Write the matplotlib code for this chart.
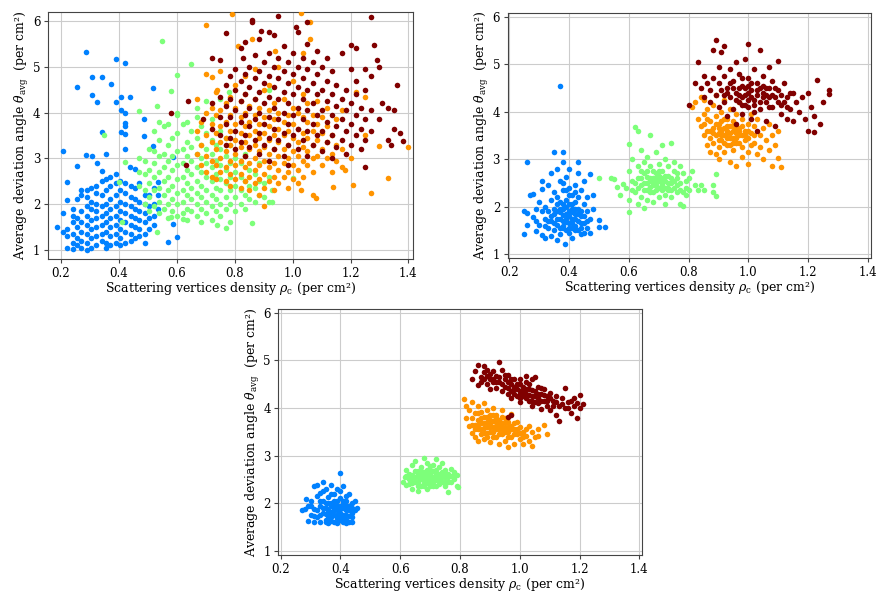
import matplotlib.pyplot as plt
import numpy as np

plt.rcParams['font.family'] = 'DejaVu Serif'
plt.rcParams['mathtext.fontset'] = 'dejavuserif'

# colores de les classes (jet a 0.25, 0.5, 0.75, 1.0)
colors = plt.cm.jet([0.25, 0.5, 0.75, 1.0])

# ---------- panell 1: columnes (x, valors y) + punts solts ----------
p1_blue_cols = [
    (0.22, [1.05, 1.3, 1.45]), (0.24, [1.02, 1.15, 1.35, 1.6, 1.75, 1.9]),
    (0.255, [1.1, 1.25, 1.5, 1.7, 2.1]), (0.27, [1.05, 1.2, 1.4, 1.6, 1.85, 2.2, 2.3]),
    (0.29, [1.0, 1.15, 1.35, 1.55, 1.75, 1.95, 2.15, 2.3]),
    (0.305, [1.05, 1.25, 1.45, 1.65, 1.9, 2.05, 2.35]),
    (0.32, [1.1, 1.3, 1.5, 1.7, 1.85, 2.0, 2.25, 2.4]),
    (0.34, [1.2, 1.35, 1.55, 1.75, 1.95, 2.2, 2.5]),
    (0.355, [1.05, 1.15, 1.4, 1.6, 1.8, 2.0, 2.3, 2.55]),
    (0.37, [1.1, 1.3, 1.5, 1.7, 1.9, 2.1, 2.4, 2.6]),
    (0.39, [1.15, 1.35, 1.55, 1.75, 1.95, 2.2, 2.45, 2.65]),
    (0.405, [1.1, 1.25, 1.45, 1.65, 1.85, 2.05, 2.3, 2.5]),
    (0.42, [1.15, 1.4, 1.6, 1.8, 2.0, 2.25, 2.45]),
    (0.44, [1.2, 1.35, 1.55, 1.75, 1.95, 2.15, 2.4]),
    (0.455, [1.25, 1.5, 1.7, 1.9, 2.1, 2.35]),
    (0.47, [1.3, 1.45, 1.65, 1.85, 2.05, 2.45]),
    (0.49, [1.15, 1.35, 1.6, 1.8, 2.0, 2.2]),
    (0.505, [1.45, 1.7, 1.95, 2.2]), (0.52, [1.55, 1.75, 2.0, 2.35]), (0.535, [1.9, 2.2]),
]
p1_blue_x = [0.187, 0.206, 0.206, 0.206, 0.222, 0.222, 0.255, 0.255, 0.288, 0.306, 0.306,
             0.306, 0.288, 0.323, 0.323, 0.340, 0.340, 0.340, 0.355, 0.372, 0.391, 0.391,
             0.407, 0.407, 0.407, 0.420, 0.420, 0.420, 0.420, 0.420, 0.420, 0.438, 0.438,
             0.455, 0.487, 0.487, 0.519, 0.519, 0.536, 0.586, 0.586, 0.602, 0.570]
p1_blue_y = [1.49, 3.15, 1.80, 1.40, 2.49, 2.09, 4.55, 2.84, 5.33, 4.78, 4.38,
             3.05, 3.07, 4.24, 2.89, 4.77, 3.57, 2.73, 3.10, 4.62, 5.18, 4.23,
             4.35, 3.58, 4.06, 5.09, 3.98, 3.78, 3.70, 3.53, 3.20, 4.35, 2.82,
             2.76, 3.87, 3.49, 4.53, 3.26, 2.49, 3.02, 1.57, 1.29, 1.17]

p1_green_cols = [
    (0.47, [2.4, 2.7, 3.0]), (0.49, [2.0, 2.3, 2.65, 2.95]),
    (0.505, [1.85, 2.15, 2.45, 2.75, 3.2]), (0.52, [1.95, 2.3, 2.6, 2.9, 3.15, 3.6]),
    (0.54, [1.8, 2.05, 2.35, 2.7, 3.05, 3.4, 3.8]), (0.555, [1.9, 2.2, 2.5, 2.8, 3.1, 3.7]),
    (0.57, [1.7, 2.0, 2.3, 2.6, 2.95, 3.3, 3.75]), (0.585, [1.85, 2.1, 2.4, 2.75, 3.05, 3.45]),
    (0.60, [1.75, 2.0, 2.25, 2.55, 2.85, 3.15, 3.55, 3.95]),
    (0.62, [1.8, 2.05, 2.3, 2.6, 2.9, 3.2, 3.75]),
    (0.635, [1.65, 1.9, 2.2, 2.45, 2.75, 3.05, 3.35, 3.8]),
    (0.65, [1.85, 2.1, 2.35, 2.65, 2.95, 3.25, 3.6]),
    (0.67, [1.75, 2.0, 2.25, 2.5, 2.8, 3.1, 3.45, 3.9]),
    (0.685, [1.6, 1.9, 2.15, 2.4, 2.7, 3.0, 3.3, 3.7]),
    (0.70, [1.8, 2.05, 2.3, 2.6, 2.9, 3.2, 3.55]),
    (0.72, [1.65, 1.95, 2.2, 2.5, 2.8, 3.1, 3.4, 3.85]),
    (0.735, [1.85, 2.1, 2.35, 2.65, 2.95, 3.3]),
    (0.75, [1.75, 2.0, 2.3, 2.55, 2.85, 3.2, 3.6]),
    (0.77, [1.9, 2.15, 2.45, 2.75, 3.05, 3.45]), (0.785, [1.6, 2.0, 2.3, 2.6, 2.9, 3.3]),
    (0.80, [1.85, 2.15, 2.4, 2.7, 3.0]), (0.82, [2.0, 2.3, 2.6, 2.9]),
    (0.835, [1.9, 2.2, 2.5, 3.1]), (0.85, [2.1, 2.4, 2.75]), (0.87, [2.05, 2.35, 2.65]),
    (0.885, [2.2, 2.5, 2.9]), (0.90, [2.15, 2.45]), (0.92, [2.05, 2.6]),
]
p1_green_x = [0.55, 0.60, 0.65, 0.58, 0.53, 0.47, 0.35, 0.42, 0.40, 0.77, 0.74, 0.86,
              0.62, 0.58, 0.53, 0.41, 0.93, 1.00, 0.78, 0.92, 0.93, 0.60, 0.67, 0.70, 0.75]
p1_green_y = [5.57, 4.83, 5.06, 4.48, 4.15, 4.04, 3.50, 2.93, 2.49, 1.47, 1.55, 1.58,
              1.68, 1.72, 1.38, 1.60, 2.05, 2.58, 4.44, 4.50, 2.30, 3.99, 4.10, 4.25, 4.30]

p1_orange_cols = [
    (0.67, [3.1, 3.6, 4.3]), (0.685, [2.85, 3.3, 3.8]), (0.70, [2.7, 3.05, 3.5, 4.0]),
    (0.72, [2.6, 2.95, 3.35, 3.75, 4.1]), (0.735, [2.55, 2.85, 3.2, 3.55, 3.95, 4.45]),
    (0.75, [2.7, 3.0, 3.35, 3.7, 4.05]), (0.77, [2.5, 2.8, 3.15, 3.45, 3.8, 4.2]),
    (0.785, [2.4, 2.65, 2.95, 3.3, 3.6, 3.95, 4.35]),
    (0.80, [2.55, 2.85, 3.1, 3.4, 3.75, 4.1, 4.6]),
    (0.82, [2.35, 2.65, 2.95, 3.25, 3.55, 3.9, 4.25]),
    (0.835, [2.5, 2.8, 3.05, 3.35, 3.7, 4.0, 4.4, 4.8]),
    (0.85, [2.3, 2.6, 2.9, 3.2, 3.5, 3.8, 4.15]),
    (0.87, [2.45, 2.75, 3.0, 3.3, 3.6, 3.95, 4.3, 4.95]),
    (0.885, [2.2, 2.55, 2.85, 3.15, 3.45, 3.75, 4.1]),
    (0.90, [2.35, 2.65, 2.95, 3.25, 3.55, 3.9, 4.5]),
    (0.92, [2.5, 2.8, 3.1, 3.4, 3.7, 4.05, 4.6]),
    (0.935, [2.3, 2.6, 2.9, 3.2, 3.5, 3.85, 4.2]),
    (0.95, [2.45, 2.75, 3.05, 3.35, 3.65, 4.0, 5.0]),
    (0.97, [2.6, 2.9, 3.2, 3.5, 3.8, 4.3]), (0.985, [2.35, 2.7, 3.0, 3.3, 3.6, 3.95]),
    (1.00, [2.55, 2.85, 3.15, 3.45, 3.75, 4.1, 4.7]), (1.02, [2.75, 3.05, 3.35, 3.65, 4.0]),
    (1.035, [2.6, 2.95, 3.25, 3.55, 3.9, 4.4, 5.3]), (1.05, [2.85, 3.15, 3.45, 3.8, 4.2]),
    (1.07, [2.7, 3.0, 3.3, 3.6, 3.95]), (1.085, [3.05, 3.4, 3.75, 4.25]),
    (1.10, [2.85, 3.2, 3.55, 3.9]), (1.12, [3.0, 3.35, 3.7, 4.1]), (1.135, [2.7, 3.1, 3.5]),
    (1.15, [2.95, 3.3, 3.85]), (1.17, [2.8, 3.2]),
]
p1_orange_x = [0.70, 0.79, 1.03, 0.81, 0.86, 0.94, 1.06, 1.06, 0.70, 0.72, 0.75, 0.74,
               0.90, 1.07, 1.08, 1.14, 1.21, 1.27, 1.33, 1.40, 1.30, 1.25, 1.20, 1.18,
               1.22, 1.25, 1.17, 1.02, 1.03]
p1_orange_y = [5.92, 6.15, 6.17, 5.45, 5.60, 5.35, 5.60, 5.98, 4.85, 4.78, 4.90, 4.50,
               1.96, 2.20, 2.14, 2.38, 2.42, 2.24, 2.56, 3.24, 3.27, 3.50, 3.00, 2.75,
               4.45, 4.35, 4.05, 2.45, 2.30]

p1_red_cols = [
    (0.72, [3.65, 4.2]), (0.75, [3.5, 3.9, 4.35]), (0.77, [3.3, 3.75, 4.15, 4.6]),
    (0.785, [3.45, 3.9, 4.3, 4.8]), (0.80, [3.2, 3.6, 4.05, 4.5, 4.95]),
    (0.82, [3.35, 3.8, 4.25, 4.7, 5.4]), (0.835, [3.05, 3.5, 3.95, 4.4, 4.85, 5.55]),
    (0.85, [3.25, 3.7, 4.1, 4.55, 5.0]), (0.87, [3.4, 3.85, 4.3, 4.75, 5.25]),
    (0.885, [3.1, 3.55, 4.0, 4.45, 4.9, 5.6]), (0.90, [3.3, 3.75, 4.2, 4.65, 5.1]),
    (0.92, [2.95, 3.45, 3.9, 4.35, 4.8, 5.3]), (0.935, [3.2, 3.65, 4.1, 4.55, 5.0, 5.7]),
    (0.95, [3.4, 3.85, 4.3, 4.75, 5.2]), (0.97, [3.05, 3.55, 4.0, 4.45, 4.9, 5.45]),
    (0.985, [2.85, 3.3, 3.75, 4.2, 4.65, 5.1]), (1.00, [3.5, 3.95, 4.4, 4.85, 5.3]),
    (1.02, [3.2, 3.65, 4.1, 4.55, 5.0, 5.75]), (1.035, [3.4, 3.85, 4.3, 4.75, 5.2]),
    (1.05, [3.05, 3.6, 4.05, 4.5, 4.95, 5.5]), (1.07, [3.3, 3.75, 4.2, 4.65, 5.1]),
    (1.085, [3.5, 3.95, 4.4, 4.85, 5.35]), (1.10, [3.15, 3.6, 4.05, 4.5, 5.0]),
    (1.12, [3.35, 3.8, 4.25, 4.7, 5.2]), (1.135, [3.0, 3.5, 3.95, 4.4, 4.9]),
    (1.15, [3.25, 3.7, 4.15, 4.6]), (1.17, [3.4, 3.85, 4.3, 5.3]),
    (1.185, [3.1, 3.6, 4.05, 4.5]), (1.20, [3.3, 3.75, 4.2, 4.95]),
    (1.22, [3.5, 3.95, 4.4, 4.7]), (1.235, [3.2, 3.65, 4.1]),
    (1.25, [3.4, 3.85, 4.5, 4.95]), (1.27, [3.6, 4.05]),
]
p1_red_x = [0.95, 0.86, 0.86, 1.27, 1.05, 1.01, 0.89, 0.77, 0.92, 0.83, 0.72, 0.75,
            0.64, 0.58, 0.69, 0.63, 1.36, 1.38, 1.37, 1.35, 1.34, 1.33, 1.25, 1.30,
            1.28, 1.20, 1.22, 1.29, 1.30, 1.27, 1.31, 1.33, 1.35]
p1_red_y = [6.10, 5.98, 6.02, 6.08, 5.98, 5.88, 5.78, 5.73, 5.75, 5.20, 5.20, 5.15,
            4.25, 3.98, 3.85, 2.85, 4.60, 3.37, 3.55, 3.63, 3.30, 3.40, 2.80, 3.87,
            5.48, 5.48, 5.40, 5.15, 5.00, 4.80, 4.20, 4.10, 4.05]

# ---------- panell 2 ----------
p2_blue = [(0.37, 4.55), (0.26, 2.94), (0.35, 3.15), (0.38, 3.16), (0.25, 1.9), (0.25, 1.43),
           (0.26, 1.62), (0.26, 1.87), (0.27, 2.25), (0.28, 2.26), (0.28, 1.78), (0.29, 1.48),
           (0.29, 1.95), (0.30, 1.62), (0.30, 2.1), (0.31, 2.55), (0.31, 2.38), (0.31, 1.40),
           (0.32, 1.75), (0.32, 2.0), (0.32, 1.35), (0.33, 2.45), (0.33, 1.9), (0.33, 1.55),
           (0.34, 2.7), (0.34, 2.15), (0.34, 1.7), (0.34, 1.38), (0.35, 2.3), (0.35, 1.85),
           (0.35, 1.5), (0.36, 2.8), (0.36, 2.05), (0.36, 1.62), (0.37, 2.55), (0.37, 1.95),
           (0.37, 1.75), (0.37, 1.42), (0.38, 2.35), (0.38, 1.82), (0.38, 1.55), (0.38, 2.95),
           (0.385, 1.22), (0.39, 2.15), (0.39, 1.68), (0.39, 2.62), (0.40, 1.9), (0.40, 1.45),
           (0.40, 2.8), (0.40, 2.25), (0.41, 1.75), (0.41, 2.05), (0.41, 1.35), (0.42, 2.45),
           (0.42, 1.6), (0.42, 1.95), (0.43, 2.7), (0.43, 2.2), (0.43, 1.5), (0.43, 2.95),
           (0.44, 1.8), (0.44, 2.35), (0.44, 1.42), (0.45, 2.05), (0.45, 1.65), (0.45, 2.55),
           (0.46, 1.9), (0.46, 1.55), (0.46, 2.2), (0.47, 1.75), (0.47, 2.68), (0.48, 2.25),
           (0.48, 1.95), (0.50, 1.72), (0.50, 1.58), (0.52, 1.58), (0.47, 1.45), (0.36, 1.3),
           (0.29, 1.7), (0.31, 1.9), (0.39, 1.85), (0.40, 1.65), (0.41, 1.88), (0.38, 1.7),
           (0.42, 1.75), (0.40, 2.05), (0.37, 2.1), (0.39, 1.5), (0.41, 1.55), (0.36, 1.9),
           (0.43, 1.85), (0.44, 1.65), (0.38, 2.05), (0.35, 1.65), (0.42, 2.1),
           (0.36, 1.75), (0.37, 1.88), (0.38, 1.6), (0.38, 1.95), (0.39, 1.75), (0.39, 2.0),
           (0.40, 1.8), (0.40, 1.55), (0.41, 1.95), (0.41, 1.65), (0.42, 1.85), (0.42, 1.5),
           (0.43, 1.7), (0.43, 1.95), (0.44, 1.9), (0.44, 1.55), (0.45, 1.8), (0.45, 1.45),
           (0.35, 1.95), (0.34, 1.8), (0.33, 1.7), (0.36, 2.2), (0.39, 2.35), (0.41, 2.25),
           (0.37, 1.55), (0.40, 2.4), (0.42, 2.3), (0.38, 2.5), (0.46, 1.7), (0.32, 1.6)]
p2_green = [(0.50, 2.6), (0.54, 2.6), (0.55, 2.58), (0.56, 2.42), (0.57, 2.25), (0.58, 2.48),
            (0.59, 2.4), (0.60, 3.33), (0.60, 2.75), (0.60, 2.15), (0.60, 1.88), (0.61, 3.0),
            (0.61, 2.55), (0.62, 3.67), (0.62, 2.3), (0.63, 2.85), (0.63, 2.6), (0.63, 2.05),
            (0.63, 3.6), (0.64, 2.45), (0.64, 2.2), (0.64, 3.2), (0.65, 2.95), (0.65, 2.7),
            (0.65, 2.35), (0.65, 1.98), (0.66, 3.05), (0.66, 2.5), (0.66, 2.15), (0.67, 2.85),
            (0.67, 2.6), (0.67, 2.3), (0.67, 3.5), (0.68, 2.45), (0.68, 2.75), (0.68, 2.1),
            (0.69, 3.15), (0.69, 2.55), (0.69, 2.35), (0.70, 2.9), (0.70, 2.65), (0.70, 2.2),
            (0.71, 2.45), (0.71, 3.3), (0.71, 2.75), (0.72, 2.55), (0.72, 2.05), (0.72, 3.0),
            (0.73, 2.35), (0.73, 2.65), (0.73, 2.85), (0.74, 2.5), (0.74, 2.2), (0.74, 3.35),
            (0.75, 2.75), (0.75, 2.4), (0.75, 2.95), (0.76, 2.6), (0.76, 2.3), (0.77, 2.05),
            (0.77, 2.85), (0.77, 2.5), (0.78, 2.7), (0.78, 2.3), (0.78, 2.02), (0.79, 2.55),
            (0.79, 2.4), (0.80, 2.35), (0.80, 2.6), (0.81, 2.75), (0.82, 2.45), (0.83, 2.35),
            (0.84, 2.45), (0.85, 2.35), (0.88, 2.45), (0.88, 2.3), (0.89, 2.22), (0.89, 2.68),
            (0.67, 2.55), (0.69, 2.7), (0.71, 2.6), (0.70, 2.4), (0.68, 2.6), (0.72, 2.4),
            (0.66, 2.75), (0.73, 2.5),
            (0.64, 2.6), (0.65, 2.5), (0.66, 2.35), (0.66, 2.62), (0.67, 2.42), (0.68, 2.3),
            (0.68, 2.5), (0.69, 2.45), (0.69, 2.6), (0.70, 2.55), (0.70, 2.75), (0.71, 2.35),
            (0.71, 2.5), (0.72, 2.65), (0.72, 2.25), (0.73, 2.4), (0.74, 2.6), (0.74, 2.35),
            (0.75, 2.55), (0.76, 2.45), (0.76, 2.7), (0.77, 2.35), (0.62, 2.5), (0.63, 2.4),
            (0.61, 2.35), (0.79, 2.25), (0.64, 2.75)]
p2_orange = [(0.81, 4.1), (0.82, 4.2), (0.83, 3.85), (0.84, 4.3), (0.84, 3.7), (0.85, 3.95),
             (0.85, 3.5), (0.85, 4.25), (0.86, 3.6), (0.86, 3.3), (0.86, 4.05), (0.87, 3.8),
             (0.87, 3.45), (0.87, 3.15), (0.88, 4.15), (0.88, 3.65), (0.88, 3.35), (0.89, 3.9),
             (0.89, 3.5), (0.89, 3.1), (0.89, 4.35), (0.90, 3.75), (0.90, 3.25), (0.90, 3.0),
             (0.91, 4.0), (0.91, 3.6), (0.91, 3.4), (0.92, 3.85), (0.92, 3.15), (0.92, 4.25),
             (0.93, 3.55), (0.93, 3.3), (0.93, 3.7), (0.94, 4.05), (0.94, 3.45), (0.94, 2.95),
             (0.95, 3.8), (0.95, 3.6), (0.95, 3.2), (0.96, 3.95), (0.96, 3.35), (0.96, 2.85),
             (0.97, 3.65), (0.97, 3.5), (0.97, 4.2), (0.98, 3.85), (0.98, 3.25), (0.98, 3.05),
             (0.99, 3.6), (0.99, 3.4), (1.00, 3.75), (1.00, 3.15), (1.00, 2.9), (1.01, 3.55),
             (1.01, 3.95), (1.02, 3.35), (1.02, 3.7), (1.03, 3.1), (1.03, 3.85), (1.04, 3.5),
             (1.04, 3.25), (1.05, 3.65), (1.05, 3.0), (1.06, 3.4), (1.07, 3.2), (1.07, 3.75),
             (1.08, 2.85), (1.08, 3.5), (1.09, 3.3), (1.10, 3.02), (1.10, 3.6), (1.11, 2.84),
             (0.93, 3.6), (0.95, 3.45), (0.94, 3.7), (0.92, 3.5), (0.96, 3.55), (0.90, 3.55),
             (0.97, 3.35),
             (0.88, 3.55), (0.89, 3.75), (0.90, 3.65), (0.90, 3.4), (0.91, 3.5), (0.91, 3.8),
             (0.92, 3.65), (0.92, 3.35), (0.93, 3.45), (0.93, 3.85), (0.94, 3.55), (0.94, 3.3),
             (0.95, 3.7), (0.95, 3.35), (0.96, 3.65), (0.96, 3.45), (0.97, 3.6), (0.98, 3.5),
             (0.98, 3.7), (0.99, 3.5), (1.00, 3.45), (1.00, 3.6), (1.01, 3.3), (0.87, 3.6),
             (0.86, 3.85), (0.85, 3.75), (1.02, 3.5)]
p2_red = [(0.80, 4.15), (0.82, 4.6), (0.83, 5.04), (0.84, 4.5), (0.85, 4.3), (0.85, 4.75),
          (0.86, 4.6), (0.87, 4.2), (0.87, 4.45), (0.88, 4.7), (0.88, 5.3), (0.89, 5.52),
          (0.89, 4.35), (0.90, 4.6), (0.90, 4.1), (0.90, 4.95), (0.91, 5.25), (0.91, 4.45),
          (0.92, 4.2), (0.92, 4.75), (0.92, 5.38), (0.93, 4.5), (0.93, 3.9), (0.94, 4.9),
          (0.94, 4.3), (0.95, 4.65), (0.95, 4.05), (0.96, 5.05), (0.96, 4.4), (0.96, 3.75),
          (0.97, 4.2), (0.97, 4.8), (0.98, 4.55), (0.98, 3.95), (0.99, 4.35), (0.99, 5.1),
          (1.00, 4.7), (1.00, 4.1), (1.00, 5.42), (1.01, 4.45), (1.01, 3.85), (1.02, 4.9),
          (1.02, 4.25), (1.03, 4.6), (1.03, 3.6), (1.04, 4.05), (1.04, 5.3), (1.05, 4.4),
          (1.05, 4.75), (1.06, 4.2), (1.06, 3.8), (1.07, 4.5), (1.07, 4.95), (1.08, 4.1),
          (1.08, 4.65), (1.09, 4.3), (1.09, 3.7), (1.10, 4.45), (1.10, 5.06), (1.11, 4.15),
          (1.11, 3.95), (1.12, 4.6), (1.13, 4.3), (1.13, 3.85), (1.14, 4.05), (1.15, 4.4),
          (1.15, 3.8), (1.16, 4.2), (1.17, 4.0), (1.18, 4.3), (1.19, 3.85), (1.20, 3.6),
          (1.20, 4.4), (1.21, 4.1), (1.22, 3.58), (1.22, 3.9), (1.23, 4.67), (1.24, 3.75),
          (1.25, 4.2), (1.27, 4.45), (1.27, 4.38), (0.98, 4.3), (1.00, 4.4), (1.02, 4.0),
          (0.97, 4.5), (1.04, 4.5), (0.99, 4.15), (1.06, 4.35),
          (0.95, 4.5), (0.96, 4.25), (0.97, 4.35), (0.98, 4.15), (0.98, 4.7), (0.99, 4.5),
          (1.00, 4.25), (1.00, 4.55), (1.01, 4.3), (1.01, 4.6), (1.02, 4.15), (1.03, 4.35),
          (1.03, 4.45), (1.04, 4.2), (1.05, 4.3), (1.05, 4.55), (1.06, 4.5), (1.07, 4.3),
          (1.07, 4.1), (1.08, 4.35), (1.09, 4.5), (1.10, 4.2), (1.11, 4.35), (1.12, 4.2),
          (0.93, 4.4), (0.94, 4.6), (0.92, 4.35), (1.13, 4.1), (1.14, 4.4)]

# ---------- panell 3 ----------
p3_blue = [(0.27, 1.85), (0.28, 1.88), (0.285, 2.08), (0.29, 1.62), (0.29, 1.95), (0.30, 2.05),
           (0.30, 1.75), (0.31, 2.35), (0.31, 1.6), (0.31, 1.88), (0.32, 2.15), (0.32, 1.7),
           (0.32, 2.38), (0.33, 1.95), (0.33, 1.6), (0.33, 2.05), (0.34, 2.45), (0.34, 1.8),
           (0.34, 2.25), (0.35, 1.65), (0.35, 2.0), (0.35, 2.3), (0.35, 1.9), (0.36, 1.75),
           (0.36, 2.12), (0.36, 1.58), (0.37, 1.95), (0.37, 2.2), (0.37, 1.7), (0.37, 2.38),
           (0.38, 1.85), (0.38, 1.6), (0.38, 2.05), (0.39, 1.75), (0.39, 2.3), (0.39, 1.95),
           (0.39, 1.58), (0.40, 2.63), (0.40, 2.1), (0.40, 1.8), (0.40, 1.65), (0.41, 1.9),
           (0.41, 2.35), (0.41, 1.6), (0.41, 2.05), (0.42, 1.75), (0.42, 2.15), (0.42, 1.95),
           (0.43, 1.6), (0.43, 1.85), (0.43, 2.2), (0.44, 1.7), (0.44, 2.0), (0.44, 1.9),
           (0.45, 1.85), (0.455, 1.9), (0.45, 2.05), (0.36, 1.85), (0.38, 1.95), (0.40, 1.95),
           (0.39, 1.85), (0.37, 1.82), (0.41, 1.75), (0.42, 1.65),
           (0.33, 1.75), (0.34, 1.9), (0.35, 1.78), (0.36, 2.0), (0.37, 1.62), (0.38, 1.75),
           (0.38, 2.2), (0.39, 2.05), (0.39, 1.68), (0.40, 1.72), (0.40, 1.88), (0.41, 1.98),
           (0.41, 1.68), (0.42, 1.85), (0.42, 2.05), (0.43, 1.95), (0.43, 1.72), (0.44, 1.8),
           (0.36, 1.68), (0.37, 2.0), (0.38, 1.88), (0.40, 2.25), (0.34, 2.05), (0.35, 1.6),
           (0.42, 1.58), (0.44, 1.6), (0.32, 1.85), (0.31, 1.72), (0.30, 1.95), (0.33, 2.22)]
p3_green = [(0.61, 2.45), (0.615, 2.55), (0.62, 2.38), (0.62, 2.7), (0.63, 2.5), (0.63, 2.62),
            (0.64, 2.42), (0.64, 2.8), (0.64, 2.3), (0.65, 2.55), (0.65, 2.68), (0.65, 2.88),
            (0.66, 2.45), (0.66, 2.25), (0.66, 2.62), (0.67, 2.75), (0.67, 2.5), (0.67, 2.35),
            (0.68, 2.95), (0.68, 2.58), (0.68, 2.42), (0.69, 2.7), (0.69, 2.52), (0.69, 2.3),
            (0.69, 2.85), (0.70, 2.62), (0.70, 2.45), (0.70, 2.78), (0.71, 2.55), (0.71, 2.35),
            (0.71, 2.68), (0.72, 2.92), (0.72, 2.48), (0.72, 2.62), (0.73, 2.75), (0.73, 2.4),
            (0.73, 2.55), (0.74, 2.65), (0.74, 2.45), (0.74, 2.85), (0.75, 2.55), (0.75, 2.35),
            (0.75, 2.7), (0.76, 2.62), (0.76, 2.24), (0.76, 2.45), (0.77, 2.58), (0.77, 2.72),
            (0.78, 2.5), (0.78, 2.65), (0.79, 2.35), (0.79, 2.6), (0.795, 2.33), (0.68, 2.65),
            (0.70, 2.55), (0.66, 2.55), (0.72, 2.58),
            (0.63, 2.4), (0.64, 2.6), (0.65, 2.45), (0.66, 2.35), (0.67, 2.62), (0.67, 2.68),
            (0.68, 2.5), (0.68, 2.35), (0.69, 2.6), (0.69, 2.42), (0.70, 2.7), (0.70, 2.35),
            (0.71, 2.45), (0.71, 2.8), (0.72, 2.7), (0.72, 2.35), (0.73, 2.62), (0.73, 2.48),
            (0.74, 2.55), (0.75, 2.45), (0.75, 2.62), (0.76, 2.55), (0.77, 2.45), (0.66, 2.68),
            (0.64, 2.52), (0.62, 2.58), (0.78, 2.58), (0.70, 2.5)]
p3_orange = [(0.815, 4.18), (0.82, 4.05), (0.82, 3.78), (0.83, 3.62), (0.83, 3.95), (0.84, 3.48),
             (0.84, 3.8), (0.84, 4.12), (0.85, 3.65), (0.85, 3.38), (0.85, 3.9), (0.86, 3.55),
             (0.86, 3.75), (0.86, 4.05), (0.86, 3.3), (0.87, 3.45), (0.87, 3.68), (0.87, 3.92),
             (0.88, 3.58), (0.88, 3.35), (0.88, 3.82), (0.88, 4.1), (0.89, 3.7), (0.89, 3.48),
             (0.89, 3.95), (0.90, 3.6), (0.90, 3.28), (0.90, 3.85), (0.91, 3.72), (0.91, 3.5),
             (0.91, 4.0), (0.92, 3.62), (0.92, 3.38), (0.92, 3.85), (0.93, 3.55), (0.93, 3.75),
             (0.93, 3.25), (0.94, 3.68), (0.94, 3.45), (0.94, 3.95), (0.95, 3.58), (0.95, 3.3),
             (0.95, 3.8), (0.96, 3.5), (0.96, 3.18), (0.96, 3.7), (0.97, 3.62), (0.97, 3.4),
             (0.97, 3.88), (0.98, 3.55), (0.98, 3.25), (0.99, 3.45), (0.99, 3.7), (1.00, 3.35),
             (1.00, 3.6), (1.01, 3.5), (1.01, 3.25), (1.02, 3.42), (1.03, 3.3), (1.03, 3.62),
             (1.04, 3.2), (1.04, 3.5), (1.05, 3.4), (1.06, 3.55), (1.06, 3.42), (1.08, 3.65),
             (1.09, 3.45), (0.92, 3.7), (0.90, 3.68), (0.94, 3.6), (0.89, 3.6),
             (0.85, 3.55), (0.86, 3.65), (0.87, 3.55), (0.87, 3.8), (0.88, 3.68), (0.88, 3.48),
             (0.89, 3.82), (0.89, 3.4), (0.90, 3.75), (0.90, 3.5), (0.91, 3.6), (0.91, 3.85),
             (0.91, 3.38), (0.92, 3.55), (0.92, 3.78), (0.93, 3.65), (0.93, 3.45), (0.94, 3.55),
             (0.94, 3.82), (0.95, 3.68), (0.95, 3.5), (0.96, 3.6), (0.96, 3.4), (0.97, 3.55),
             (0.98, 3.45), (0.98, 3.68), (0.99, 3.55), (1.00, 3.48), (1.02, 3.55), (1.01, 3.38),
             (0.84, 3.65), (0.86, 3.9)]
p3_red = [(0.84, 4.6), (0.85, 4.78), (0.86, 4.48), (0.86, 4.9), (0.87, 4.65), (0.87, 4.55),
          (0.88, 4.75), (0.88, 4.88), (0.89, 4.5), (0.89, 4.68), (0.90, 4.6), (0.90, 4.4),
          (0.91, 4.78), (0.91, 4.55), (0.92, 4.68), (0.92, 4.42), (0.93, 4.96), (0.93, 4.55),
          (0.94, 4.8), (0.94, 4.35), (0.95, 4.6), (0.95, 4.45), (0.96, 4.3), (0.96, 4.7),
          (0.97, 4.5), (0.97, 4.2), (0.97, 3.85), (0.96, 3.82), (0.98, 4.4), (0.98, 4.62),
          (0.99, 4.25), (0.99, 4.5), (1.00, 4.35), (1.00, 4.12), (1.00, 4.6), (1.01, 4.45),
          (1.01, 4.25), (1.02, 4.68), (1.02, 4.3), (1.03, 4.15), (1.03, 4.5), (1.04, 4.38),
          (1.04, 4.05), (1.05, 4.25), (1.05, 4.65), (1.06, 4.45), (1.06, 4.1), (1.07, 4.3),
          (1.07, 3.98), (1.08, 4.4), (1.08, 4.15), (1.09, 4.25), (1.09, 4.05), (1.10, 4.32),
          (1.10, 3.95), (1.11, 4.15), (1.12, 4.25), (1.12, 3.85), (1.13, 4.05), (1.13, 3.73),
          (1.14, 4.2), (1.15, 4.0), (1.15, 4.42), (1.16, 4.12), (1.17, 3.9), (1.18, 4.05),
          (1.18, 4.22), (1.19, 3.8), (1.20, 4.0), (1.20, 4.27), (1.21, 4.08), (1.02, 4.4),
          (1.04, 4.25), (1.00, 4.3), (0.98, 4.45), (1.06, 4.3),
          (0.88, 4.6), (0.89, 4.8), (0.90, 4.72), (0.91, 4.62), (0.92, 4.55), (0.93, 4.65),
          (0.94, 4.5), (0.95, 4.7), (0.96, 4.55), (0.96, 4.42), (0.97, 4.35), (0.97, 4.62),
          (0.98, 4.3), (0.99, 4.4), (1.00, 4.5), (1.00, 4.22), (1.01, 4.35), (1.02, 4.2),
          (1.02, 4.55), (1.03, 4.4), (1.03, 4.28), (1.04, 4.6), (1.04, 4.15), (1.05, 4.35),
          (1.05, 4.12), (1.06, 4.22), (1.07, 4.42), (1.07, 4.15), (1.08, 4.28), (1.09, 4.15),
          (1.10, 4.2), (1.11, 4.05), (1.12, 4.12), (1.14, 4.08), (1.16, 4.0), (1.17, 4.15),
          (1.19, 4.1)]


def columnes(cols, xs, ys):
    x = [c[0] for c in cols for _ in c[1]] + xs
    y = [v for c in cols for v in c[1]] + ys
    return np.array(x), np.array(y)


def parells(pts):
    a = np.array(pts)
    return a[:, 0], a[:, 1]


panell1 = [columnes(p1_blue_cols, p1_blue_x, p1_blue_y),
           columnes(p1_green_cols, p1_green_x, p1_green_y),
           columnes(p1_orange_cols, p1_orange_x, p1_orange_y),
           columnes(p1_red_cols, p1_red_x, p1_red_y)]
panell2 = [parells(p) for p in (p2_blue, p2_green, p2_orange, p2_red)]
panell3 = [parells(p) for p in (p3_blue, p3_green, p3_orange, p3_red)]

fig = plt.figure(figsize=(8.79, 5.94), dpi=100)
axs = [fig.add_axes([0.0546, 0.564, 0.415, 0.416]),
       fig.add_axes([0.5776, 0.5657, 0.4133, 0.4125]),
       fig.add_axes([0.3166, 0.0657, 0.4134, 0.414])]
limits = [((0.155, 1.415), (0.8, 6.2)),
          ((0.195, 1.41), (0.92, 6.08)),
          ((0.192, 1.408), (0.91, 6.08))]

for ax, dades, (xl, yl) in zip(axs, [panell1, panell2, panell3], limits):
    for (x, y), c in zip(dades, colors):
        ax.scatter(x, y, s=16, color=c, linewidths=0, zorder=3)
    ax.set_xlim(*xl)
    ax.set_ylim(*yl)
    ax.set_xticks([0.2, 0.4, 0.6, 0.8, 1.0, 1.2, 1.4])
    ax.set_yticks([1, 2, 3, 4, 5, 6])
    ax.grid(True, color='#cccccc', linewidth=0.8, zorder=0)
    ax.tick_params(labelsize=8.5, length=3, pad=2.5, color='#444444')
    for sp in ax.spines.values():
        sp.set_color('#444444')
    ax.set_xlabel(r'Scattering vertices density $\rho_{\mathrm{c}}$ (per cm²)', fontsize=9, labelpad=0)
    ax.set_ylabel(r'Average deviation angle $\theta_{\mathrm{avg}}$  (per cm²)', fontsize=9, labelpad=1)

plt.savefig('out.png', dpi=100)
